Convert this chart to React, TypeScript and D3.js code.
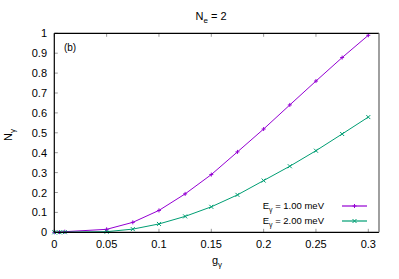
import React from "react";
import * as d3 from "d3";

const gValues = [0, 0.005, 0.01, 0.05, 0.075, 0.1, 0.125, 0.15, 0.175, 0.2, 0.225, 0.25, 0.275, 0.3];
const seriesE1 = [0, 0.001, 0.003, 0.015, 0.05, 0.11, 0.193, 0.29, 0.404, 0.519, 0.64, 0.76, 0.878, 0.99];
const seriesE2 = [0, 0.0, 0.0005, 0.003, 0.016, 0.042, 0.08, 0.128, 0.188, 0.26, 0.332, 0.41, 0.494, 0.579];
const xTicks = [0, 0.05, 0.1, 0.15, 0.2, 0.25, 0.3];
const yTicks = [0, 0.1, 0.2, 0.3, 0.4, 0.5, 0.6, 0.7, 0.8, 0.9, 1];
const legendLabels = ["1.00 meV", "2.00 meV"];
const colors = ["#9400D3", "#009E73"];

const W = 399, H = 279;
const L = 54.3, R = 379, T = 33.3, B = 232.3;
const FONT = "'Liberation Sans', Arial, sans-serif";

export default function App() {
  const x = d3.scaleLinear().domain([0, 0.3]).range([L, 368.3]);
  const y = d3.scaleLinear().domain([0, 1]).range([B, T]);
  const line = d3.line<number>().x((_, i) => x(gValues[i])).y((d) => y(d));
  const series = [seriesE1, seriesE2];

  const plus = (cx: number, cy: number, c: string, k: string) => (
    <g key={k} stroke={c} strokeWidth={1}>
      <line x1={cx - 2} x2={cx + 2} y1={cy} y2={cy} />
      <line x1={cx} x2={cx} y1={cy - 2} y2={cy + 2} />
    </g>
  );
  const cross = (cx: number, cy: number, c: string, k: string) => (
    <g key={k} stroke={c} strokeWidth={1}>
      <line x1={cx - 2} x2={cx + 2} y1={cy - 2} y2={cy + 2} />
      <line x1={cx - 2} x2={cx + 2} y1={cy + 2} y2={cy - 2} />
    </g>
  );
  const markers = [plus, cross];

  return (
    <svg width={W} height={H} style={{ position: "absolute", left: 0, top: 0, background: "#fff" }} fontFamily={FONT}>
      <rect x={0} y={0} width={W} height={H} fill="#fff" />
      {xTicks.map((t) => (
        <g key={"xt" + t} strokeWidth={1}>
          <line x1={x(t)} x2={x(t)} y1={B} y2={B - 3.5} stroke="#999" />
          <line x1={x(t)} x2={x(t)} y1={T} y2={T + 3.5} stroke="#999" />
        </g>
      ))}
      {yTicks.map((t) => (
        <line key={"yt" + t} x1={L} x2={L + 3.5} y1={y(t)} y2={y(t)} stroke="#999" strokeWidth={1} />
      ))}
      {series.map((s, si) => (
        <g key={"s" + si}>
          <path d={line(s) || ""} fill="none" stroke={colors[si]} strokeWidth={1} />
          {s.map((v, i) => markers[si](x(gValues[i]), y(v), colors[si], "m" + si + "-" + i))}
        </g>
      ))}
      <line x1={L} x2={R} y1={T} y2={T} stroke="#000" strokeWidth={1.2} />
      <line x1={L} x2={R} y1={B} y2={B} stroke="#000" strokeWidth={1.2} />
      <line x1={L} x2={L} y1={T} y2={B} stroke="#000" strokeWidth={1.2} />
      <line x1={R} x2={R} y1={T} y2={B} stroke="#777" strokeWidth={1.4} />
      {xTicks.map((t) => (
        <text key={"xl" + t} x={x(t)} y={248} textAnchor="middle" fontSize={11} fill="#000">
          {d3.format("~g")(t)}
        </text>
      ))}
      {yTicks.map((t) => (
        <text key={"yl" + t} x={47} y={y(t) + 4} textAnchor="end" fontSize={11} fill="#000">
          {d3.format("~g")(t)}
        </text>
      ))}
      <text x={217} y={264} textAnchor="middle" fontSize={11}>
        g<tspan fontSize={8} dy={3}>γ</tspan>
      </text>
      <text transform="translate(12,135) rotate(-90)" textAnchor="middle" fontSize={11}>
        N<tspan fontSize={8} dy={3}>γ</tspan>
      </text>
      <text x={211} y={20} textAnchor="middle" fontSize={11}>
        N<tspan fontSize={8} dy={3}>e</tspan>
        <tspan dy={-3}> = 2</tspan>
      </text>
      <text x={70} y={51} textAnchor="middle" fontSize={10}>(b)</text>
      {legendLabels.map((lab, i) => {
        const ly = 206 + i * 15;
        return (
          <g key={"lg" + i}>
            <text x={324} y={ly + 3} textAnchor="end" fontSize={9.5}>
              E<tspan fontSize={7} dy={2.5}>γ</tspan>
              <tspan dy={-2.5}> = {lab}</tspan>
            </text>
            <line x1={342} x2={367} y1={ly} y2={ly} stroke={colors[i]} strokeWidth={1.2} />
            {markers[i](354.5, ly, colors[i], "lm" + i)}
          </g>
        );
      })}
    </svg>
  );
}
